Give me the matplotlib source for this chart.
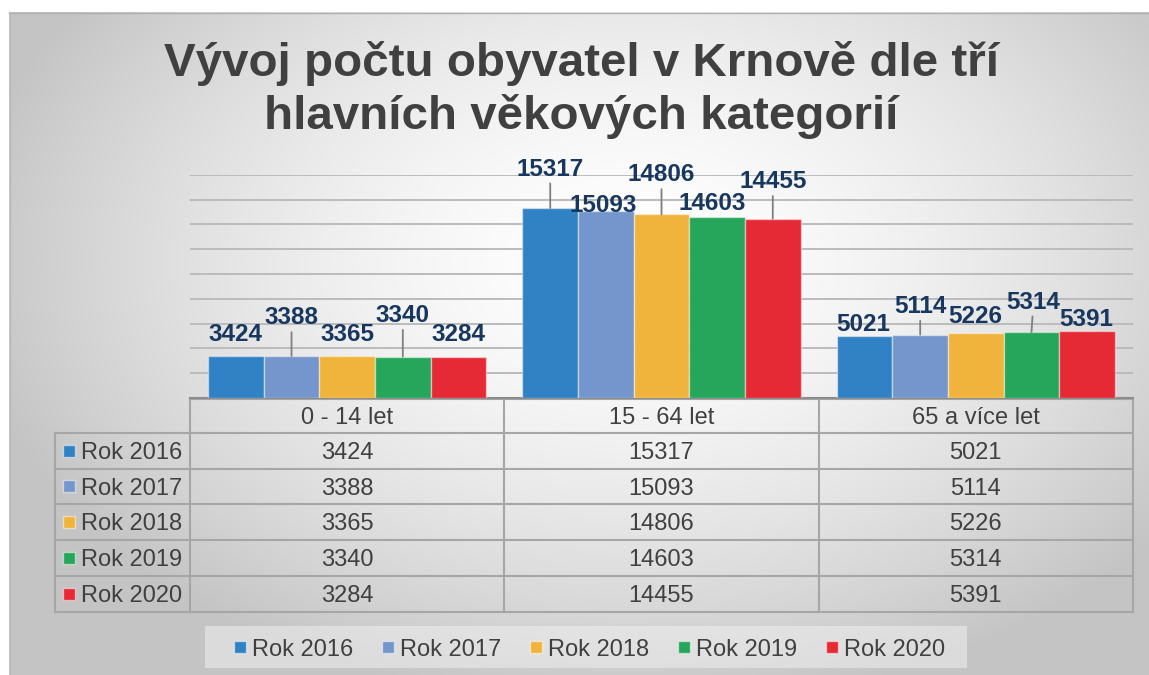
import numpy as np
import matplotlib
matplotlib.use("Agg")
import matplotlib.pyplot as plt
from matplotlib.patches import Rectangle

# ---------------- data ----------------
categories = ["0 - 14 let", "15 - 64 let", "65 a více let"]
series_names = ["Rok 2016", "Rok 2017", "Rok 2018", "Rok 2019", "Rok 2020"]
rok_2016 = [3424, 15317, 5021]
rok_2017 = [3388, 15093, 5114]
rok_2018 = [3365, 14806, 5226]
rok_2019 = [3340, 14603, 5314]
rok_2020 = [3284, 14455, 5391]
series_values = [rok_2016, rok_2017, rok_2018, rok_2019, rok_2020]
title_lines = ["Vývoj počtu obyvatel v Krnově dle tří", "hlavních věkových kategorií"]

# ---------------- style ----------------
colors = ["#3182C4", "#7596CC", "#F0B43C", "#26A65A", "#E52A36"]
label_color = "#17375E"
text_color = "#404040"
grid_color = "#bbbbbb"
table_line = "#a6a6a6"
# label offsets in pixels [category][series]
label_dy = [[21, 38, 21.5, 41, 22.5], [39, 5, 39.5, 13, 37], [11.5, 28, 16.5, 30, 12]]
label_dx = [[0, 0, 0, 0, 0], [0, -3, 0, -5, 0], [-1, 0, -1, 2, -1]]
leader = [[0, 1, 0, 1, 0], [1, 0, 1, 0, 1], [0, 1, 0, 1, 0]]

plt.rcParams["font.family"] = ["Liberation Sans", "DejaVu Sans"]

W, H = 1149, 675
fig = plt.figure(figsize=(W / 100, H / 100), dpi=100)

# ---------------- background (pixel coordinates) ----------------
bg = fig.add_axes([0, 0, 1, 1])
bg.set_xlim(0, W)
bg.set_ylim(H, 0)
bg.axis("off")
bg.add_patch(Rectangle((0, 0), W, H, facecolor="white", edgecolor="none", zorder=0))
x0, y0 = 9, 12
xs = np.linspace(x0, W, 400)
ys = np.linspace(y0, H, 240)
XX, YY = np.meshgrid(xs, ys)
cx, cy = 630, 260
r = np.sqrt(((XX - cx) / 640) ** 2 + ((YY - cy) / 430) ** 2)
r = np.clip(r / 1.05, 0, 1)
v = 1 - 0.23 * r ** 1.6
img = np.dstack([v, v, v])
bg.imshow(img, extent=[x0, W, H, y0], aspect="auto", zorder=1, interpolation="bilinear")
bg.plot([x0, W], [y0 + 0.5, y0 + 0.5], color="#b0b0b0", lw=1, zorder=2)
bg.plot([x0 + 0.5, x0 + 0.5], [y0, H], color="#b8b8b8", lw=1, zorder=2)

# title
title_cx = 581
for line, base in zip(title_lines, [76, 129]):
    bg.text(title_cx, base, line, ha="center", va="baseline", fontsize=34.2,
            fontweight="bold", color=text_color, zorder=5)

# ---------------- bar axes ----------------
PL, PR, PT, PB = 190, 1133, 174.8, 398
ax = fig.add_axes([PL / W, (H - PB) / H, (PR - PL) / W, (PB - PT) / H])
ax.patch.set_alpha(0)
n_ser = len(series_names)
xcat = np.arange(len(categories))
group_w = 0.885
bw = group_w / n_ser
ax.set_xlim(-0.5, len(categories) - 0.5)
ax.set_ylim(0, 18000)
ax.set_yticks(np.arange(2000, 18001, 2000))
ax.yaxis.grid(True, color=grid_color, lw=1.4)
ax.set_axisbelow(True)
ax.tick_params(left=False, bottom=False, labelleft=False, labelbottom=False)
for s in ["top", "right", "left"]:
    ax.spines[s].set_visible(False)
ax.spines["bottom"].set_color("#8c8c8c")
ax.spines["bottom"].set_linewidth(1.5)

for i, (name, vals, c) in enumerate(zip(series_names, series_values, colors)):
    pos = xcat - group_w / 2 + bw * (i + 0.5)
    ax.bar(pos, vals, width=bw, color=c, edgecolor=(1, 1, 1, 0.45), lw=1, zorder=3)
    for k, (px, val) in enumerate(zip(pos, vals)):
        arrow = dict(arrowstyle="-", color="#7f7f7f", lw=1.3, shrinkA=0, shrinkB=0) if leader[k][i] else None
        ax.annotate(f"{val}", xy=(px, val), xytext=(label_dx[k][i], label_dy[k][i]),
                    textcoords="offset pixels", ha="center", va="center",
                    fontsize=17.5, fontweight="bold", color=label_color,
                    arrowprops=arrow, zorder=6, annotation_clip=False)

# ---------------- data table ----------------
TL = 55
col_edges = [PL + (PR - PL) * k / len(categories) for k in range(len(categories) + 1)]
row_edges = [399, 432.5, 468.5, 504, 540, 576, 611.5]
lw_t = 1.5
fs_t = 17
bg.plot([PL, PR], [row_edges[0], row_edges[0]], color=table_line, lw=lw_t, zorder=4)
for yv in row_edges[1:]:
    bg.plot([TL, PR], [yv, yv], color=table_line, lw=lw_t, zorder=4)
for xv in col_edges:
    bg.plot([xv, xv], [row_edges[0], row_edges[-1]], color=table_line, lw=lw_t, zorder=4)
bg.plot([TL, TL], [row_edges[1], row_edges[-1]], color=table_line, lw=lw_t, zorder=4)

for k, cat in enumerate(categories):
    xc = (col_edges[k] + col_edges[k + 1]) / 2
    bg.text(xc, (row_edges[0] + row_edges[1]) / 2, cat, ha="center", va="center_baseline",
            fontsize=fs_t, color=text_color, zorder=5)
for i, (name, vals, c) in enumerate(zip(series_names, series_values, colors)):
    yc = (row_edges[i + 1] + row_edges[i + 2]) / 2
    bg.add_patch(Rectangle((63, yc - 6), 12, 12, facecolor=c, edgecolor=(1, 1, 1, 0.5), lw=1, zorder=5))
    bg.text(81, yc, name, ha="left", va="center_baseline", fontsize=fs_t, color=text_color, zorder=5)
    for k, val in enumerate(vals):
        xc = (col_edges[k] + col_edges[k + 1]) / 2
        bg.text(xc, yc, f"{val}", ha="center", va="center_baseline", fontsize=fs_t,
                color=text_color, zorder=5)

# ---------------- legend ----------------
bg.add_patch(Rectangle((205, 626), 762, 42, facecolor="#f2f2f2", alpha=0.5, edgecolor="none", zorder=4))
for i, (name, c) in enumerate(zip(series_names, colors)):
    lx = 234 + 148 * i
    bg.add_patch(Rectangle((lx, 641), 12, 12, facecolor=c, edgecolor=(1, 1, 1, 0.5), lw=1, zorder=5))
    bg.text(lx + 18, 647, name, ha="left", va="center_baseline", fontsize=fs_t,
            color=text_color, zorder=5)

fig.savefig("out.png", dpi=100)
